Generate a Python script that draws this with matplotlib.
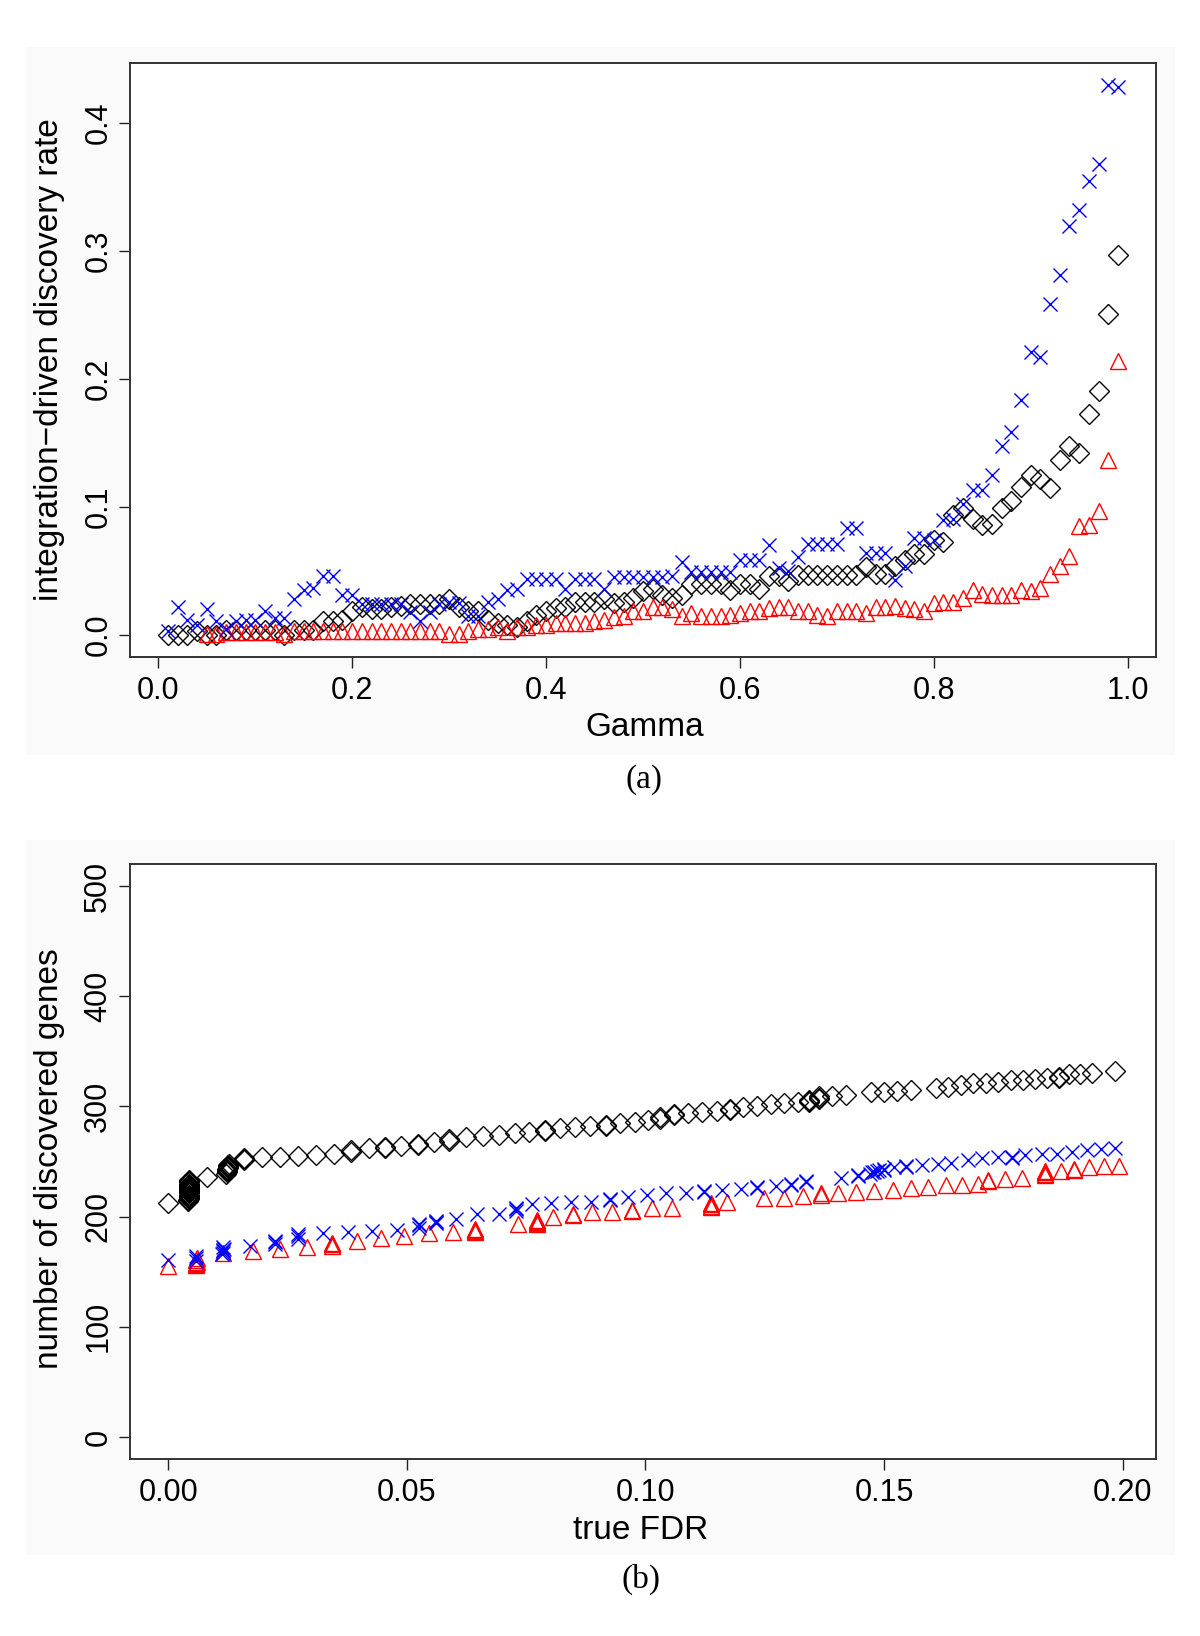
import numpy as np
import matplotlib
matplotlib.use("Agg")
import matplotlib.pyplot as plt
from matplotlib.patches import Rectangle

# panel (a): integration-driven discovery rate against gamma (0.01 .. 0.99)
gamma = [i / 100 for i in range(1, 100)]

rate_blue = [
    0.003, 0.022, 0.012, 0.008, 0.020, 0.011, 0.005, 0.011, 0.012, 0.012,
    0.019, 0.013, 0.013, 0.028, 0.035, 0.037, 0.046, 0.046, 0.031, 0.031,
    0.024, 0.024, 0.024, 0.024, 0.024, 0.018, 0.011, 0.018, 0.024, 0.026,
    0.025, 0.015, 0.015, 0.026, 0.028, 0.035, 0.036, 0.044, 0.044, 0.044,
    0.044, 0.036, 0.044, 0.044, 0.044, 0.036, 0.045, 0.045, 0.045, 0.045,
    0.045, 0.045, 0.046, 0.057, 0.049, 0.049, 0.049, 0.049, 0.049, 0.059,
    0.059, 0.059, 0.070, 0.052, 0.050, 0.061, 0.071, 0.071, 0.071, 0.071,
    0.084, 0.084, 0.064, 0.064, 0.064, 0.043, 0.054, 0.076, 0.076, 0.074,
    0.090, 0.091, 0.102, 0.113, 0.113, 0.125, 0.148, 0.159, 0.184, 0.221,
    0.217, 0.259, 0.281, 0.320, 0.332, 0.355, 0.368, 0.430, 0.428,
]

rate_black = [
    0.000, 0.000, 0.000, 0.003, 0.000, 0.000, 0.004, 0.004, 0.004, 0.004,
    0.004, 0.004, 0.000, 0.004, 0.004, 0.004, 0.011, 0.011, 0.012, 0.019,
    0.022, 0.020, 0.020, 0.022, 0.023, 0.024, 0.024, 0.024, 0.024, 0.028,
    0.022, 0.019, 0.019, 0.012, 0.009, 0.008, 0.006, 0.011, 0.016, 0.019,
    0.021, 0.022, 0.026, 0.026, 0.026, 0.028, 0.025, 0.026, 0.029, 0.034,
    0.036, 0.031, 0.029, 0.031, 0.040, 0.040, 0.040, 0.040, 0.035, 0.040,
    0.040, 0.036, 0.046, 0.046, 0.042, 0.047, 0.047, 0.047, 0.047, 0.047,
    0.047, 0.047, 0.053, 0.048, 0.048, 0.054, 0.059, 0.063, 0.063, 0.074,
    0.073, 0.094, 0.099, 0.091, 0.086, 0.087, 0.099, 0.105, 0.116, 0.125,
    0.122, 0.115, 0.137, 0.148, 0.142, 0.173, 0.191, 0.251, 0.297,
]

# red series starts at gamma = 0.05
gamma_red = gamma[4:]
rate_red = [
    0.001, 0.001, 0.002, 0.002, 0.002, 0.002, 0.002, 0.002, 0.001,
    0.003, 0.003, 0.003, 0.003, 0.003, 0.003, 0.003, 0.003,
    0.003, 0.003, 0.003, 0.003, 0.003, 0.003, 0.003, 0.003,
    0.001, 0.001, 0.003, 0.005, 0.005, 0.006, 0.003, 0.006, 0.006,
    0.008, 0.008, 0.009, 0.009, 0.009, 0.009, 0.011, 0.012, 0.014,
    0.015, 0.019, 0.019, 0.022, 0.022, 0.020, 0.015, 0.017, 0.015, 0.015,
    0.015, 0.016, 0.017, 0.019, 0.019, 0.021, 0.022, 0.022, 0.019, 0.019,
    0.016, 0.015, 0.019, 0.019, 0.019, 0.017, 0.022, 0.022, 0.023, 0.021,
    0.020, 0.019, 0.025, 0.026, 0.026, 0.029, 0.035, 0.032, 0.031, 0.031,
    0.031, 0.035, 0.034, 0.037, 0.048, 0.054, 0.062, 0.085, 0.086, 0.097,
    0.137, 0.214,
]

# panel (b): number of discovered genes against true FDR
fdr_black = [
    0.0000,
    0.0042, 0.0042, 0.0043, 0.0043, 0.0043, 0.0043, 0.0043, 0.0043, 0.0044, 0.0044,
    0.0043, 0.0043, 0.0043, 0.0043, 0.0043, 0.0043, 0.0043, 0.0043, 0.0043, 0.0043,
    0.0082,
    0.0122, 0.0123, 0.0124, 0.0124, 0.0124, 0.0125, 0.0125, 0.0126, 0.0126, 0.0127,
    0.0159, 0.0159, 0.0159,
    0.0196, 0.0235, 0.0273, 0.0310, 0.0347, 0.0383, 0.0383, 0.0420, 0.0455, 0.0455,
    0.0489, 0.0524, 0.0524, 0.0557, 0.0589, 0.0589, 0.0624, 0.0659, 0.0694, 0.0726,
    0.0757, 0.0789, 0.0789, 0.0821, 0.0852, 0.0884, 0.0917, 0.0917, 0.0947, 0.0978,
    0.1006, 0.1031, 0.1031, 0.1059, 0.1059, 0.1089, 0.1119, 0.1150, 0.1177, 0.1177,
    0.1205, 0.1233, 0.1263, 0.1291, 0.1319, 0.1343, 0.1343, 0.1343, 0.1364, 0.1364,
    0.1364, 0.1392, 0.1420, 0.1473, 0.1501, 0.1528, 0.1557, 0.1609, 0.1635, 0.1661,
    0.1687, 0.1714, 0.1740, 0.1766, 0.1791, 0.1817, 0.1841, 0.1866, 0.1866, 0.1887,
    0.1911, 0.1936, 0.1985,
]
genes_black = [
    212,
    214, 215, 216, 217, 218, 219, 220, 221, 222, 223,
    224, 225, 226, 227, 228, 229, 230, 231, 232, 233,
    236,
    239, 240, 241, 242, 243, 244, 245, 246, 247, 248,
    251, 252, 253,
    254, 254, 255, 256, 257, 259, 260, 262, 262, 263,
    264, 265, 266, 268, 269, 270, 272, 273, 274, 276,
    277, 278, 279, 280, 281, 282, 282, 283, 285, 286,
    288, 289, 290, 292, 293, 294, 295, 296, 297, 298,
    299, 300, 302, 303, 304, 304, 305, 306, 307, 308,
    309, 309, 310, 313, 313, 314, 315, 317, 318, 319,
    321, 321, 322, 324, 324, 325, 326, 326, 327, 329,
    329, 330, 332,
]

fdr_blue = [
    0.0000, 0.0059, 0.0059, 0.0059, 0.0113, 0.0114, 0.0115, 0.0116, 0.0117, 0.0115,
    0.0171, 0.0224, 0.0224, 0.0224, 0.0273, 0.0273, 0.0273, 0.0325, 0.0377, 0.0427,
    0.0480, 0.0526, 0.0526, 0.0526, 0.0561, 0.0561, 0.0561, 0.0603, 0.0648, 0.0694,
    0.0729, 0.0729, 0.0729, 0.0763, 0.0803, 0.0845, 0.0887, 0.0926, 0.0926, 0.0963,
    0.1003, 0.1044, 0.1086, 0.1122, 0.1122, 0.1161, 0.1200, 0.1235, 0.1235, 0.1274,
    0.1306, 0.1306, 0.1336, 0.1336, 0.1410, 0.1445, 0.1445, 0.1470, 0.1475, 0.1480,
    0.1485, 0.1490, 0.1501, 0.1501, 0.1522, 0.1547, 0.1547, 0.1579, 0.1614, 0.1641,
    0.1677, 0.1705, 0.1740, 0.1768, 0.1768, 0.1796, 0.1831, 0.1863, 0.1895, 0.1926,
    0.1954, 0.1985,
]
genes_blue = [
    161, 160, 162, 164, 166, 167, 169, 170, 171, 172,
    173, 175, 177, 178, 180, 182, 184, 185, 186, 187,
    188, 190, 192, 193, 194, 195, 196, 198, 202, 202,
    205, 207, 208, 211, 212, 213, 213, 215, 216, 218,
    220, 221, 221, 222, 223, 224, 225, 226, 227, 228,
    229, 230, 231, 232, 235, 237, 238, 239, 240, 240,
    241, 242, 242, 243, 245, 245, 246, 247, 248, 249,
    251, 253, 254, 253, 254, 256, 257, 257, 259, 260,
    261, 262,
]

fdr_red = [
    0.0000, 0.0058, 0.0059, 0.0059, 0.0060, 0.0059, 0.0060,
    0.0115, 0.0178, 0.0234, 0.0291, 0.0344,
    0.0344, 0.0344, 0.0396, 0.0446, 0.0495, 0.0547, 0.0596, 0.0642, 0.0642, 0.0642,
    0.0642, 0.0733, 0.0772, 0.0772, 0.0772, 0.0772, 0.0772, 0.0807, 0.0849, 0.0849,
    0.0888, 0.0930, 0.0972, 0.0972, 0.1014, 0.1056, 0.1137, 0.1137, 0.1137, 0.1137,
    0.1172, 0.1249, 0.1291, 0.1331, 0.1368, 0.1368, 0.1403, 0.1441, 0.1480, 0.1519,
    0.1557, 0.1593, 0.1631, 0.1663, 0.1698, 0.1719, 0.1719, 0.1754, 0.1789, 0.1838,
    0.1838, 0.1838, 0.1838, 0.1870, 0.1898, 0.1898, 0.1929, 0.1961, 0.1993,
]
genes_red = [
    155, 156, 157, 158, 159, 161, 162,
    167, 169, 171, 172, 173,
    175, 176, 178, 181, 182, 185, 186, 186, 187, 188,
    189, 193, 193, 194, 195, 196, 197, 200, 201, 202,
    204, 204, 205, 206, 208, 208, 209, 210, 211, 212,
    213, 217, 217, 219, 220, 221, 221, 222, 223, 224,
    226, 227, 229, 229, 230, 232, 233, 234, 235, 238,
    239, 240, 241, 241, 242, 243, 245, 246, 246,
]

SANS = ["Liberation Sans", "DejaVu Sans"]
SERIF = ["Liberation Serif", "DejaVu Serif"]

fig = plt.figure(figsize=(12, 16.36), dpi=100)

# faint grey panel backgrounds like the scanned figure
for y0, h in [(0.5385, 0.4328), (0.0495, 0.4370)]:
    fig.patches.append(Rectangle((0.022, y0), 0.957, h, transform=fig.transFigure,
                                 facecolor="#fafafa", edgecolor="none", zorder=-5))


def style_axes(ax):
    ax.set_zorder(2)
    for s in ax.spines.values():
        s.set_linewidth(1.4)
        s.set_color("#333333")
    ax.tick_params(axis="both", direction="out", length=8, width=1.0,
                   colors="#222222", labelsize=22)
    ax.tick_params(axis="x", pad=6)
    ax.tick_params(axis="y", pad=4)
    for lab in ax.get_xticklabels() + ax.get_yticklabels():
        lab.set_family(SANS)
        lab.set_color("black")
    for lab in ax.get_yticklabels():
        lab.set_rotation(90)
        lab.set_va("center")


def draw_series(ax, xb, yb, xr, yr, xu, yu):
    ax.plot(xb, yb, linestyle="none", marker="D", ms=10.5, mfc="none",
            mec="black", mew=1.0)
    ax.plot(xr, yr, linestyle="none", marker="^", ms=12, mfc="none",
            mec="#ff0000", mew=1.0)
    ax.plot(xu, yu, linestyle="none", marker="x", ms=10.5, mec="#0000ff",
            mew=1.0)


# ---- panel (a)
ax1 = fig.add_axes([0.1083, 0.5984, 0.855, 0.3631])
ax1.set_facecolor("white")
draw_series(ax1, gamma, rate_black, gamma_red, rate_red, gamma, rate_blue)
ax1.set_xlim(-0.0292, 1.0292)
ax1.set_ylim(-0.0172, 0.447)
ax1.set_xticks([0.0, 0.2, 0.4, 0.6, 0.8, 1.0])
ax1.set_xticklabels(["0.0", "0.2", "0.4", "0.6", "0.8", "1.0"])
ax1.set_yticks([0.0, 0.1, 0.2, 0.3, 0.4])
ax1.set_yticklabels(["0.0", "0.1", "0.2", "0.3", "0.4"])
style_axes(ax1)

fig.text(0.537, 0.5556, "Gamma", ha="center", va="center", fontsize=24, family=SANS)
fig.text(0.041, 0.78, "integration\u2212driven discovery rate", ha="center",
         va="center", rotation=90, fontsize=24, family=SANS)
fig.text(0.537, 0.5232, "(a)", ha="center", va="center", fontsize=24, family=SERIF)

# ---- panel (b)
ax2 = fig.add_axes([0.1083, 0.1082, 0.855, 0.3637])
ax2.set_facecolor("white")
draw_series(ax2, fdr_black, genes_black, fdr_red, genes_red, fdr_blue, genes_blue)
ax2.set_xlim(-0.008, 0.207)
ax2.set_ylim(-20, 520)
ax2.set_xticks([0.00, 0.05, 0.10, 0.15, 0.20])
ax2.set_xticklabels(["0.00", "0.05", "0.10", "0.15", "0.20"])
ax2.set_yticks([0, 100, 200, 300, 400, 500])
ax2.set_yticklabels(["0", "100", "200", "300", "400", "500"])
style_axes(ax2)

fig.text(0.534, 0.0642, "true FDR", ha="center", va="center", fontsize=24, family=SANS)
fig.text(0.041, 0.292, "number of discovered genes", ha="center", va="center",
         rotation=90, fontsize=24, family=SANS)
fig.text(0.534, 0.0348, "(b)", ha="center", va="center", fontsize=24, family=SERIF)

fig.savefig("out.png", dpi=100, facecolor="white")
